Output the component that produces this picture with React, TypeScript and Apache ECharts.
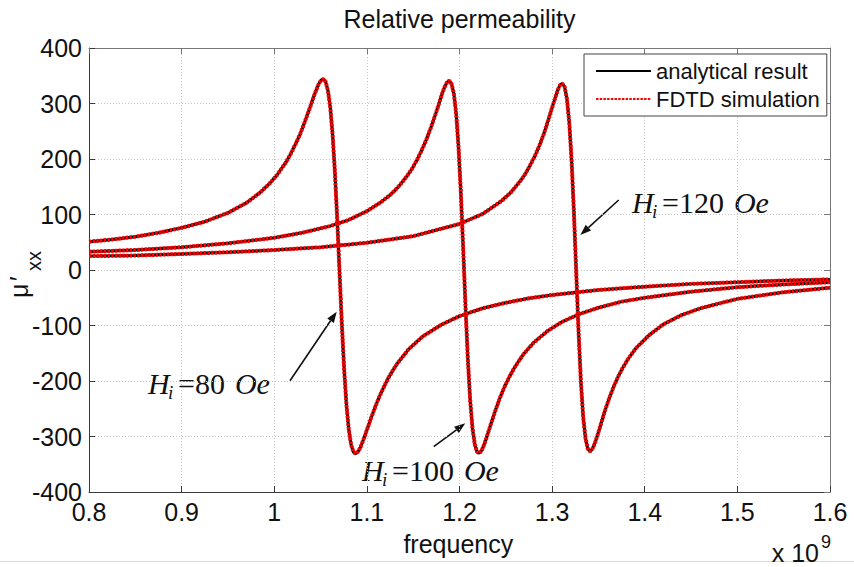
import React, { useEffect, useRef } from "react";
import * as echarts from "echarts";

// Frequency samples (x 10^9) and relative permeability values
const freq80 = [0.8, 0.825, 0.85, 0.875, 0.9, 0.925, 0.95, 0.97, 0.985, 0.995, 1.003, 1.008, 1.013, 1.018, 1.023, 1.028, 1.033, 1.038, 1.043, 1.0455, 1.048, 1.0505, 1.053, 1.0555, 1.058, 1.0605, 1.063, 1.0655, 1.068, 1.0705, 1.073, 1.0755, 1.078, 1.0805, 1.083, 1.0855, 1.088, 1.0905, 1.093, 1.0955, 1.098, 1.103, 1.108, 1.113, 1.118, 1.123, 1.128, 1.133, 1.145, 1.16, 1.18, 1.2, 1.225, 1.25, 1.275, 1.3, 1.35, 1.4, 1.45, 1.5, 1.55, 1.6];
const mu80 = [51, 55, 60, 67, 76, 87, 103, 121, 140, 156, 171, 183, 195, 210, 227, 245, 267, 290, 314, 325, 335, 342, 344, 339, 323, 293, 244, 176, 91, -5, -98, -180, -244, -288, -315, -328, -331, -327, -320, -309, -298, -274, -251, -230, -212, -195, -181, -168, -143, -120, -99, -83, -69, -59, -51, -45, -36, -30, -25, -22, -19, -17];

const freq100 = [0.8, 0.85, 0.9, 0.95, 1, 1.03, 1.06, 1.08, 1.1, 1.115, 1.125, 1.133, 1.139, 1.144, 1.149, 1.154, 1.159, 1.164, 1.169, 1.174, 1.179, 1.1815, 1.184, 1.1865, 1.189, 1.1915, 1.194, 1.1965, 1.199, 1.2015, 1.204, 1.2065, 1.209, 1.2115, 1.214, 1.2165, 1.219, 1.2215, 1.224, 1.2265, 1.229, 1.2315, 1.234, 1.239, 1.244, 1.249, 1.254, 1.259, 1.264, 1.269, 1.28, 1.295, 1.31, 1.33, 1.35, 1.375, 1.4, 1.45, 1.5, 1.55, 1.6];
const mu100 = [33, 36, 41, 48, 58, 67, 79, 90, 106, 122, 135, 148, 160, 171, 183, 198, 215, 234, 256, 280, 306, 319, 330, 338, 341, 335, 317, 280, 220, 138, 38, -66, -160, -234, -285, -314, -328, -330, -325, -315, -303, -290, -277, -252, -229, -209, -192, -177, -164, -152, -131, -110, -94, -79, -68, -57, -50, -39, -31, -26, -22];

const freq120 = [0.8, 0.85, 0.9, 0.95, 1, 1.05, 1.1, 1.15, 1.2, 1.225, 1.245, 1.255, 1.266, 1.271, 1.276, 1.281, 1.286, 1.291, 1.296, 1.301, 1.3035, 1.306, 1.3085, 1.311, 1.3135, 1.316, 1.3185, 1.321, 1.3235, 1.326, 1.3285, 1.331, 1.3335, 1.336, 1.3385, 1.341, 1.3435, 1.346, 1.3485, 1.351, 1.3535, 1.356, 1.361, 1.366, 1.371, 1.376, 1.381, 1.386, 1.391, 1.405, 1.42, 1.44, 1.46, 1.5, 1.55, 1.6];
const mu120 = [25, 26, 29, 32, 36, 41, 49, 61, 83, 101, 124, 139, 161, 173, 188, 204, 223, 245, 271, 298, 311, 324, 333, 336, 330, 308, 266, 198, 105, -3, -110, -199, -264, -303, -322, -327, -322, -313, -300, -287, -273, -259, -234, -212, -193, -177, -163, -151, -140, -117, -98, -81, -69, -52, -40, -32];

const seriesNames = ["analytical result", "FDTD simulation"];
const fieldLabels = ["80", "100", "120"];
const xRange = [0.8, 1.6, 0.1];
const yRange = [-400, 400, 100];

const SANS = "'Liberation Sans', Arial, sans-serif";
const SERIF = "'Liberation Serif', 'Times New Roman', serif";
const INK = "#111";

function annotation(x0: number, baseline: number, num: string) {
  const eqW = (0.564 + 0.5 * num.length) * 30;
  const base = { fill: INK, align: "left", verticalAlign: "middle", fontFamily: SERIF };
  return {
    type: "group",
    silent: true,
    children: [
      { type: "text", x: x0, y: baseline - 10, style: { ...base, text: "H", fontSize: 30, fontStyle: "italic" } },
      { type: "text", x: x0 + 20, y: baseline - 0.5, style: { ...base, text: "i", fontSize: 19, fontStyle: "italic" } },
      { type: "text", x: x0 + 30, y: baseline - 10, style: { ...base, text: "=" + num, fontSize: 30 } },
      { type: "text", x: x0 + 30 + eqW + 10, y: baseline - 10, style: { ...base, text: "Oe", fontSize: 30, fontStyle: "italic" } },
    ],
  };
}

function arrow(x1: number, y1: number, x2: number, y2: number) {
  const dx = x2 - x1, dy = y2 - y1;
  const len = Math.hypot(dx, dy);
  const ux = dx / len, uy = dy / len;
  const hl = 11, hw = 4;
  const bx = x2 - hl * ux, by = y2 - hl * uy;
  const nx = -uy * hw, ny = ux * hw;
  return [
    { type: "line", silent: true, shape: { x1, y1, x2: bx, y2: by }, style: { stroke: INK, lineWidth: 1.6 } },
    { type: "polygon", silent: true, shape: { points: [[x2, y2], [bx + nx, by + ny], [bx - nx, by - ny]] }, style: { fill: INK } },
  ];
}

export default function App() {
  const ref = useRef<HTMLDivElement>(null);
  useEffect(() => {
    if (!ref.current) return;
    const chart = echarts.init(ref.current, null, { renderer: "svg" });
    const curves = [
      { f: freq80, m: mu80 },
      { f: freq100, m: mu100 },
      { f: freq120, m: mu120 },
    ];
    const zip = (f: number[], m: number[]) => f.map((v, i) => [v, m[i]]);
    const series: any[] = [];
    curves.forEach((c) =>
      series.push({
        type: "line", name: seriesNames[0], data: zip(c.f, c.m), symbol: "none", showSymbol: false, silent: true,
        lineStyle: { color: "#000", width: 3 }, itemStyle: { color: "#000" }, z: 2,
      })
    );
    curves.forEach((c) =>
      series.push({
        type: "line", name: seriesNames[1], data: zip(c.f, c.m), symbol: "none", showSymbol: false, silent: true,
        lineStyle: { color: "#ff0000", width: 4, type: [2.5, 1.2] }, itemStyle: { color: "#ff0000" }, z: 3,
      })
    );
    const axisColor = "#3a3a3a";
    const split = { show: true, lineStyle: { color: "#c4c4c4", type: [1, 2], width: 1 } };
    chart.setOption({
      animation: false,
      backgroundColor: "#fff",
      grid: { left: 89, top: 48, width: 741, height: 444, containLabel: false },
      legend: {
        data: seriesNames,
        orient: "vertical",
        left: 584,
        top: 54,
        itemWidth: 55,
        itemHeight: 14,
        itemGap: 6,
        padding: [6, 7, 6, 11],
        backgroundColor: "#fff",
        borderColor: "#444",
        borderWidth: 1,
        borderRadius: 0,
        selectedMode: false,
        itemStyle: { opacity: 0, borderWidth: 0 },
        textStyle: { fontSize: 22, fontFamily: SANS, color: INK },
      },
      xAxis: [
        {
          type: "value", min: xRange[0], max: xRange[1], interval: xRange[2], position: "bottom",
          axisLine: { show: true, onZero: false, lineStyle: { color: axisColor } },
          axisTick: { show: true, inside: true, length: 6, lineStyle: { color: axisColor } },
          axisLabel: {
            fontSize: 25, fontFamily: SANS, color: INK, margin: 7,
            formatter: (v: number) => String(+v.toFixed(1)),
          },
          splitLine: split,
        },
        {
          type: "value", min: xRange[0], max: xRange[1], interval: xRange[2], position: "top",
          axisLine: { show: true, onZero: false, lineStyle: { color: "#777" } },
          axisTick: { show: true, inside: true, length: 6, lineStyle: { color: "#777" } },
          axisLabel: { show: false },
          splitLine: { show: false },
        },
      ],
      yAxis: [
        {
          type: "value", min: yRange[0], max: yRange[1], interval: yRange[2], position: "left",
          axisLine: { show: true, onZero: false, lineStyle: { color: axisColor } },
          axisTick: { show: true, inside: true, length: 6, lineStyle: { color: axisColor } },
          axisLabel: { fontSize: 25, fontFamily: SANS, color: INK, margin: 7 },
          splitLine: split,
        },
        {
          type: "value", min: yRange[0], max: yRange[1], interval: yRange[2], position: "right",
          axisLine: { show: true, onZero: false, lineStyle: { color: "#777" } },
          axisTick: { show: true, inside: true, length: 6, lineStyle: { color: "#777" } },
          axisLabel: { show: false },
          splitLine: { show: false },
        },
      ],
      series,
      graphic: [
        {
          type: "text", x: 459.5, y: 18.5, silent: true,
          style: { text: "Relative permeability", fontSize: 25, fontFamily: SANS, fill: INK, align: "center", verticalAlign: "middle" },
        },
        {
          type: "text", x: 458.3, y: 544, silent: true,
          style: { text: "frequency", fontSize: 25, fontFamily: SANS, fill: INK, align: "center", verticalAlign: "middle" },
        },
        {
          type: "text", x: 771.7, y: 553, silent: true,
          style: { text: "x 10", fontSize: 25, fontFamily: SANS, fill: INK, align: "left", verticalAlign: "middle" },
        },
        {
          type: "text", x: 821, y: 541.5, silent: true,
          style: { text: "9", fontSize: 18, fontFamily: SANS, fill: INK, align: "left", verticalAlign: "middle" },
        },
        {
          type: "group", x: 28, y: 298, rotation: Math.PI / 2, silent: true,
          children: [
            { type: "text", x: 0, y: -9, style: { text: "μ", fontSize: 25, fontFamily: SANS, fill: INK, align: "left", verticalAlign: "middle" } },
            { type: "text", x: 17, y: -9, style: { text: "′", fontSize: 25, fontFamily: SANS, fill: INK, align: "left", verticalAlign: "middle" } },
            { type: "text", x: 27, y: 6, style: { text: "xx", fontSize: 20, fontFamily: SANS, fill: INK, align: "left", verticalAlign: "middle" } },
          ],
        },
        annotation(148, 393, fieldLabels[0]),
        annotation(362, 480, fieldLabels[1]),
        annotation(632, 212, fieldLabels[2]),
        ...arrow(290, 380.7, 336.7, 311.7),
        ...arrow(433.7, 446.7, 465.3, 423.3),
        ...arrow(618.7, 200, 580.3, 235),
        {
          type: "line", silent: true, shape: { x1: 0, y1: 561.5, x2: 854, y2: 561.5 },
          style: { stroke: "#d6d6d6", lineWidth: 1 }, z: -1,
        },
      ],
    });
    return () => chart.dispose();
  }, []);
  return <div ref={ref} style={{ position: "absolute", left: 0, top: 0, width: 854, height: 567 }} />;
}
